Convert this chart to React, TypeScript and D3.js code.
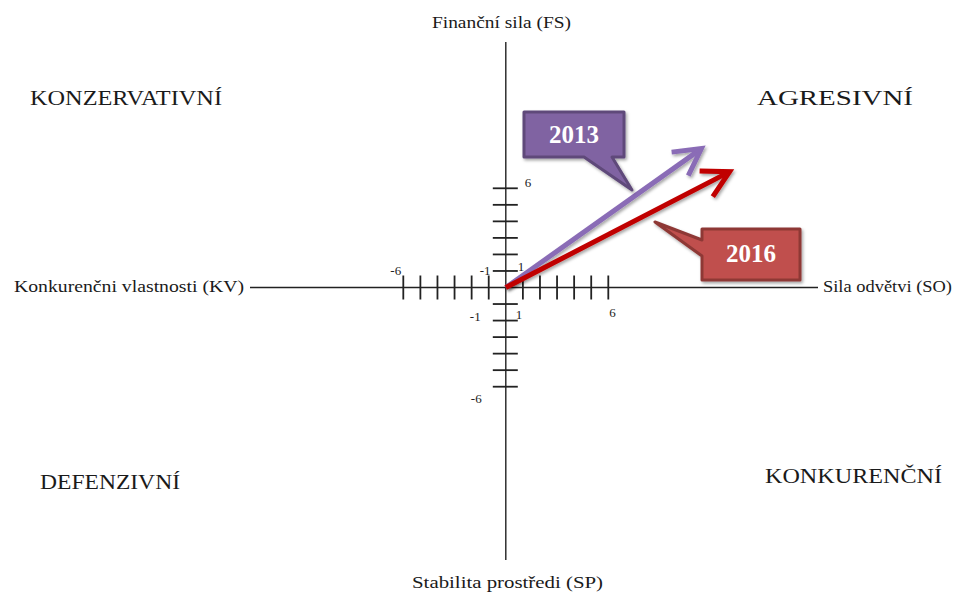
import React from "react";
import * as d3 from "d3";

const tickValues = [-6, -5, -4, -3, -2, -1, 1, 2, 3, 4, 5, 6];
const xTickLabels = [
  { v: -6, t: "-6" },
  { v: 6, t: "6" },
];
const years = ["2013", "2016"];
const vectorX = [11.45, 13.1];
const vectorY = [8.4, 7.0];
const quadrants = ["KONZERVATIVNÍ", "AGRESIVNÍ", "DEFENZIVNÍ", "KONKURENČNÍ"];
const axisTitles = [
  "Finanční sila (FS)",
  "Sila odvětvi (SO)",
  "Stabilita prostředi (SP)",
  "Konkurenčni vlastnosti (KV)",
];

const W = 960;
const H = 595;
const serif = "'Liberation Serif', 'DejaVu Serif', serif";

export default function App() {
  const x = d3.scaleLinear().domain([-6, 6]).range([403.3, 608.3]);
  const y = d3.scaleLinear().domain([-6, 6]).range([386.7, 188.3]);
  const ox = x(0);
  const oy = y(0);
  const lineColors = ["#8a6cb6", "#c00000"];
  const boxFill = ["#8064a2", "#c0504d"];
  const boxStroke = ["#5f497a", "#8e3836"];

  const arrowHead = (x0: number, y0: number, x1: number, y1: number) => {
    const a = Math.atan2(y1 - y0, x1 - x0);
    const L = 30;
    const s = 0.5;
    const p1 = [x1 - L * Math.cos(a - s), y1 - L * Math.sin(a - s)];
    const p2 = [x1 - L * Math.cos(a + s), y1 - L * Math.sin(a + s)];
    return `M${p1[0]},${p1[1]}L${x1},${y1}L${p2[0]},${p2[1]}`;
  };

  const txt = { fontFamily: serif, fill: "#1a1a1a" } as const;

  return (
    <svg
      width={W}
      height={H}
      style={{ position: "absolute", left: 0, top: 0, background: "#fff" }}
    >
      <defs>
        <filter id="sh" x="-20%" y="-20%" width="140%" height="140%">
          <feDropShadow dx="1.5" dy="2" stdDeviation="1.5" floodColor="#000" floodOpacity="0.35" />
        </filter>
      </defs>
      {/* axes */}
      <line x1={250} x2={818} y1={oy} y2={oy} stroke="#222" strokeWidth={1.4} />
      <line x1={ox} x2={ox} y1={42} y2={560} stroke="#222" strokeWidth={1.4} />
      {tickValues.map((v) => (
        <line key={"xt" + v} x1={x(v)} x2={x(v)} y1={oy - 12} y2={oy + 12} stroke="#222" strokeWidth={1.8} />
      ))}
      {tickValues.map((v) => (
        <line key={"yt" + v} x1={ox - 13} x2={ox + 12} y1={y(v)} y2={y(v)} stroke="#222" strokeWidth={1.8} />
      ))}
      {/* tick labels */}
      <g style={{ fontFamily: serif, fontSize: 13 }} fill="#222">
        <text x={x(xTickLabels[0].v) - 13} y={oy - 13}>{xTickLabels[0].t}</text>
        <text x={x(-1) - 9} y={oy - 13}>-1</text>
        <text x={ox + 12} y={oy - 17}>1</text>
        <text x={ox + 19} y={y(6) - 1}>6</text>
        <text x={ox - 36} y={oy + 33}>-1</text>
        <text x={ox + 10} y={oy + 31}>1</text>
        <text x={x(xTickLabels[1].v) + 1} y={oy + 29}>{xTickLabels[1].t}</text>
        <text x={ox - 35} y={y(-6) + 16}>-6</text>
      </g>
      {/* axis titles */}
      <text x={432} y={28} style={{ ...txt, fontSize: 16 }} textLength={139} lengthAdjust="spacingAndGlyphs">{axisTitles[0]}</text>
      <text x={823} y={292} style={{ ...txt, fontSize: 16 }} textLength={129} lengthAdjust="spacingAndGlyphs">{axisTitles[1]}</text>
      <text x={412} y={588} style={{ ...txt, fontSize: 16 }} textLength={191} lengthAdjust="spacingAndGlyphs">{axisTitles[2]}</text>
      <text x={14} y={292} style={{ ...txt, fontSize: 16 }} textLength={230} lengthAdjust="spacingAndGlyphs">{axisTitles[3]}</text>
      {/* quadrant labels */}
      <text x={30} y={105} style={{ ...txt, fontSize: 22 }} textLength={192} lengthAdjust="spacingAndGlyphs">{quadrants[0]}</text>
      <text x={757} y={105} style={{ ...txt, fontSize: 22 }} textLength={156} lengthAdjust="spacingAndGlyphs">{quadrants[1]}</text>
      <text x={40} y={489} style={{ ...txt, fontSize: 22 }} textLength={140} lengthAdjust="spacingAndGlyphs">{quadrants[2]}</text>
      <text x={765} y={483} style={{ ...txt, fontSize: 22 }} textLength={177} lengthAdjust="spacingAndGlyphs">{quadrants[3]}</text>
      {/* vectors */}
      {years.map((yr, i) => {
        const x1 = x(vectorX[i]);
        const y1 = y(vectorY[i]);
        const a = Math.atan2(y1 - oy, x1 - ox);
        return (
          <g key={yr} filter="url(#sh)">
            <line x1={ox} y1={oy} x2={x1 - 3 * Math.cos(a)} y2={y1 - 3 * Math.sin(a)} stroke={lineColors[i]} strokeWidth={5} />
            <path d={arrowHead(ox, oy, x1, y1)} fill="none" stroke={lineColors[i]} strokeWidth={5} strokeLinejoin="miter" />
          </g>
        );
      })}
      {/* callouts */}
      <g filter="url(#sh)">
        <path
          d="M524,112 L624,112 L624,157 L612,157 L632,190 L584,157 L524,157 Z"
          fill={boxFill[0]}
          stroke={boxStroke[0]}
          strokeWidth={3}
          strokeLinejoin="round"
        />
        <path
          d="M702,229 L800,229 L800,280 L702,280 L702,256 L655,222 L702,240 Z"
          fill={boxFill[1]}
          stroke={boxStroke[1]}
          strokeWidth={3}
          strokeLinejoin="round"
        />
      </g>
      <text x={574} y={143} textAnchor="middle" style={{ fontFamily: serif, fontSize: 25, fontWeight: "bold", fill: "#fff" }}>{years[0]}</text>
      <text x={751} y={262} textAnchor="middle" style={{ fontFamily: serif, fontSize: 25, fontWeight: "bold", fill: "#fff" }}>{years[1]}</text>
    </svg>
  );
}
